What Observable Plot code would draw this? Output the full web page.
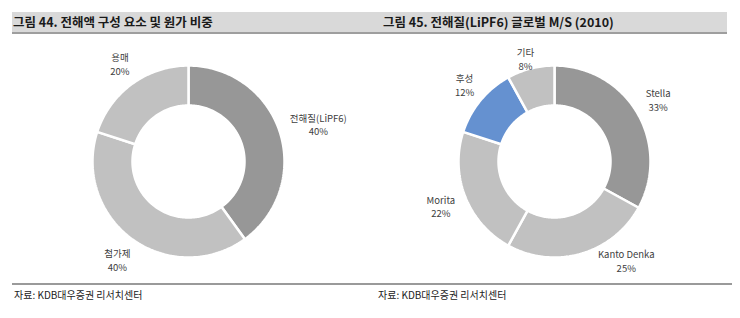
<!DOCTYPE html>
<html><head><meta charset="utf-8">
<script src="https://cdn.jsdelivr.net/npm/d3@7"></script>
<script src="https://cdn.jsdelivr.net/npm/@observablehq/plot@0.6"></script>
<style>
body{margin:0;background:#fff;font-family:"Noto Sans CJK KR",sans-serif;}
#page{position:relative;width:740px;height:318px;overflow:hidden;background:#fff;}
.hbar{position:absolute;left:12px;top:12px;width:715px;height:20px;background:#d9d9d9;border-bottom:2.5px solid #9e9e9e;}
.title{position:absolute;top:12px;line-height:20px;font-size:12.5px;font-weight:600;color:#1a1a1a;white-space:nowrap;}
.fline{position:absolute;left:12px;top:283px;width:720px;border-top:2px solid #9a9a9a;}
.src{position:absolute;top:288px;font-size:10px;line-height:13px;color:#222;white-space:nowrap;}
.chart{position:absolute;top:36px;}
</style></head><body>
<div id="page">
  <div class="hbar"></div>
  <div class="title" id="t1" style="left:13px"></div>
  <div class="title" id="t2" style="left:383px"></div>
  <div class="chart" id="c1" style="left:8px"></div>
  <div class="chart" id="c2" style="left:374px"></div>
  <div class="fline"></div>
  <div class="src" id="s1" style="left:14px"></div>
  <div class="src" id="s2" style="left:378px"></div>
</div>
<script>
// ---- data ----
const leftTitle = "그림 44. 전해액 구성 요소 및 원가 비중";
const leftCategories = ["전해질(LiPF6)", "첨가제", "용매"];
const leftValues = [40, 40, 20];
const leftColors = ["#979797", "#c1c1c1", "#c1c1c1"];

const rightTitle = "그림 45. 전해질(LiPF6) 글로벌 M/S (2010)";
const rightCategories = ["Stella", "Kanto Denka", "Morita", "후성", "기타"];
const rightValues = [33, 25, 22, 12, 8];
const rightColors = ["#979797", "#c1c1c1", "#c1c1c1", "#6591d0", "#c1c1c1"];

const sourceText = "자료: KDB대우증권 리서치센터";

// ---- layout ----
const FONT = '"Noto Sans CJK KR", sans-serif';
const PX = 96;               // outer radius in pixels
const INNER = 56 / PX;       // inner radius (fraction of outer)
const W = 360, H = 250;
const ctx = document.createElement("canvas").getContext("2d");
ctx.font = "9.5px " + FONT;

function donut(categories, values, colors) {
  const arcs = d3.pie().sort(null).value(d => d)(values);
  const pts = [];
  arcs.forEach((p, i) => {
    const n = Math.max(2, Math.ceil((p.endAngle - p.startAngle) / (Math.PI / 180)));
    const ring = [];
    for (let k = 0; k <= n; k++) {
      const a = p.startAngle + (p.endAngle - p.startAngle) * k / n;
      ring.push([Math.sin(a), Math.cos(a)]);
    }
    for (let k = n; k >= 0; k--) {
      const a = p.startAngle + (p.endAngle - p.startAngle) * k / n;
      ring.push([INNER * Math.sin(a), INNER * Math.cos(a)]);
    }
    ring.push(ring[0]);
    ring.forEach(([x, y]) => pts.push({x, y, slice: categories[i], color: colors[i]}));
  });
  const anchor = 108, hh = 13, bottomLimit = 99, topLimit = 103;
  const labels = arcs.map((p, i) => {
    const a = (p.startAngle + p.endAngle) / 2;
    const hw = ctx.measureText(categories[i]).width / 2;
    let dx = (anchor + hw) * Math.sin(a);
    let dy = (anchor + hh) * Math.cos(a);
    if (dy < -bottomLimit) {
      const D = Math.hypot(dx, dy);
      dy = -bottomLimit;
      dx = Math.sign(dx) * Math.sqrt(Math.max(0, D * D - dy * dy));
    }
    if (dy > topLimit) dy = topLimit;
    return {x: dx / PX, y: dy / PX, text: categories[i] + "\n" + values[i] + "%"};
  });
  return Plot.plot({
    width: W, height: H, margin: 0,
    style: {fontFamily: FONT, background: "transparent"},
    x: {domain: [-W / 2 / PX, W / 2 / PX], axis: null},
    y: {domain: [-H / 2 / PX, H / 2 / PX], axis: null},
    color: {type: "identity"},
    marks: [
      Plot.line(pts, {x: "x", y: "y", z: "slice", fill: "color", stroke: "#fff", strokeWidth: 2.5, strokeLinejoin: "miter", curve: "linear"}),
      Plot.text(labels, {x: "x", y: "y", text: "text", fontSize: 9.5, lineHeight: 1.45, fill: "#404040", textAnchor: "middle", lineAnchor: "middle"})
    ]
  });
}

document.getElementById("t1").textContent = leftTitle;
document.getElementById("t2").textContent = rightTitle;
document.getElementById("s1").textContent = sourceText;
document.getElementById("s2").textContent = sourceText;
document.getElementById("c1").append(donut(leftCategories, leftValues, leftColors));
document.getElementById("c2").append(donut(rightCategories, rightValues, rightColors));
</script>
</body></html>
